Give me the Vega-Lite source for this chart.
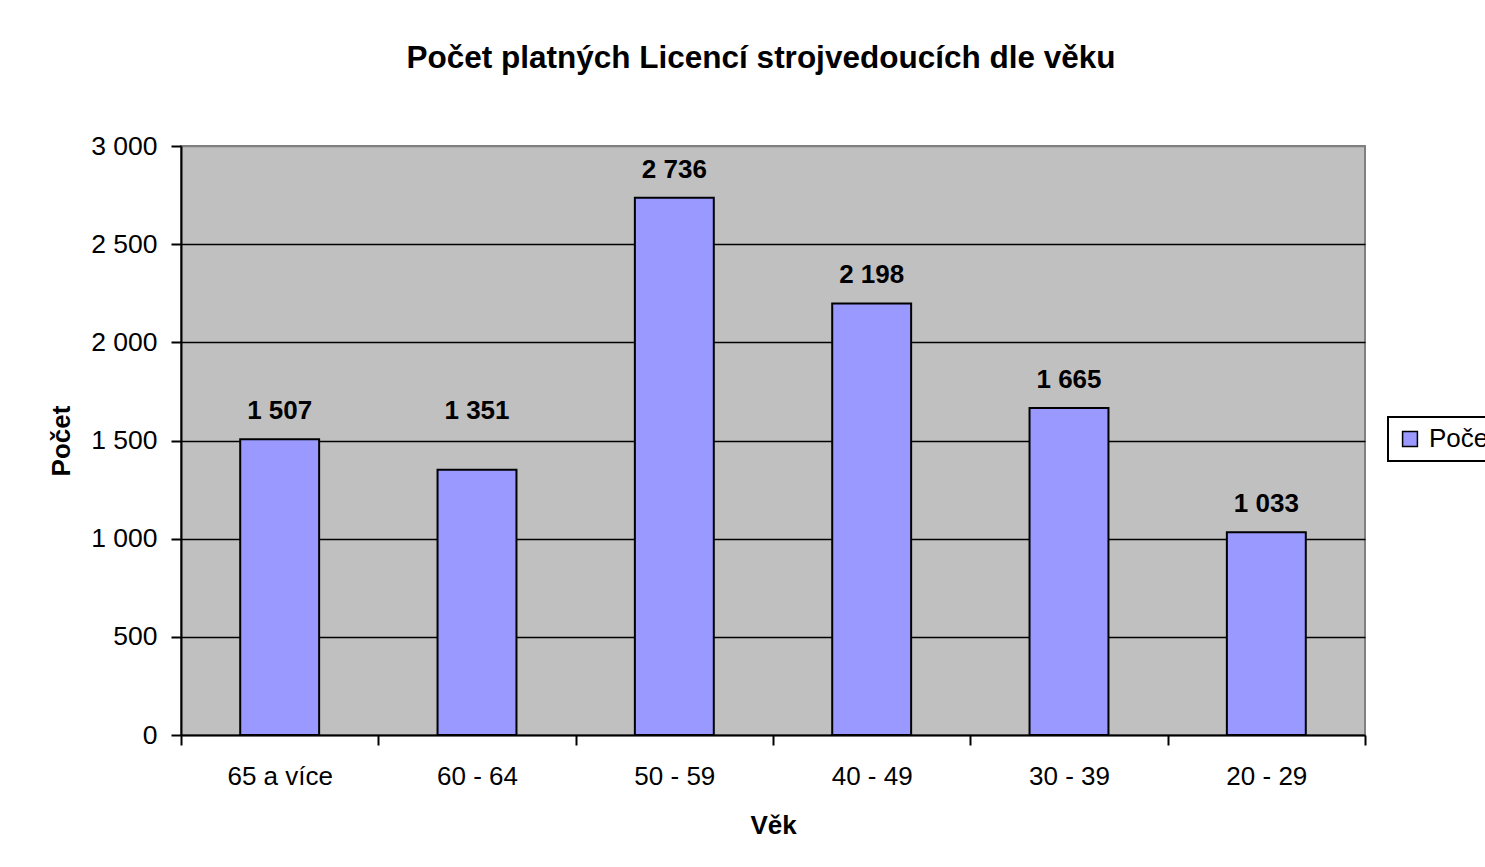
{
  "$schema": "https://vega.github.io/schema/vega-lite/v6.json",
  "autosize": {"type": "none"},
  "padding": {"left": 181, "top": 146, "right": 120, "bottom": 132},
  "width": 1184,
  "height": 589,
  "background": "white",
  "title": {
    "text": "Počet platných Licencí strojvedoucích dle věku",
    "font": "Liberation Sans",
    "fontSize": 31.5,
    "fontWeight": "bold",
    "color": "black",
    "anchor": "middle",
    "frame": "group",
    "offset": 59,
    "dx": -12
  },
  "data": {
    "values": [
      {"vek": "65 a více", "pocet": 1507, "serie": "Počet"},
      {"vek": "60 - 64", "pocet": 1351, "serie": "Počet"},
      {"vek": "50 - 59", "pocet": 2736, "serie": "Počet"},
      {"vek": "40 - 49", "pocet": 2198, "serie": "Počet"},
      {"vek": "30 - 39", "pocet": 1665, "serie": "Počet"},
      {"vek": "20 - 29", "pocet": 1033, "serie": "Počet"}
    ]
  },
  "encoding": {
    "x": {
      "field": "vek",
      "type": "nominal",
      "sort": null,
      "title": "Věk",
      "scale": {"paddingInner": 0, "paddingOuter": 0},
      "axis": {
        "labelAngle": 0,
        "tickBand": "extent",
        "grid": false,
        "domainColor": "black",
        "domainWidth": 2,
        "tickColor": "black",
        "tickWidth": 2,
        "tickSize": 10,
        "labelPadding": 18,
        "labelFont": "Liberation Sans",
        "labelFontSize": 26,
        "labelColor": "black",
        "titleFont": "Liberation Sans",
        "titleFontSize": 26,
        "titleFontWeight": "bold",
        "titleColor": "black",
        "titlePadding": 23
      }
    },
    "y": {
      "field": "pocet",
      "type": "quantitative",
      "title": "Počet",
      "scale": {"domain": [0, 3000], "nice": false},
      "axis": {
        "values": [0, 500, 1000, 1500, 2000, 2500, 3000],
        "format": ",d",
        "grid": true,
        "gridColor": {"condition": {"test": "datum.value === 3000 || datum.value === 0", "value": "#808080"}, "value": "black"},
        "gridWidth": 1.5,
        "domainColor": "black",
        "domainWidth": 2,
        "tickColor": "black",
        "tickWidth": 2,
        "tickSize": 10,
        "labelPadding": 14,
        "labelFont": "Liberation Sans",
        "labelFontSize": 26.5,
        "labelColor": "black",
        "titleFont": "Liberation Sans",
        "titleFontSize": 26,
        "titleFontWeight": "bold",
        "titleColor": "black",
        "titlePadding": 16
      }
    }
  },
  "layer": [
    {
      "mark": {"type": "bar", "width": {"band": 0.4}, "stroke": "black", "strokeWidth": 2},
      "encoding": {
        "color": {
          "field": "serie",
          "type": "nominal",
          "scale": {"range": ["#9999FF"]},
          "legend": {
            "title": null,
            "orient": "none",
            "legendX": 1207,
            "legendY": 271,
            "symbolType": "square",
            "symbolSize": 220,
            "symbolStrokeColor": "black",
            "symbolStrokeWidth": 1.5,
            "labelFont": "Liberation Sans",
            "labelFontSize": 26,
            "labelColor": "black",
            "labelOffset": 6,
            "strokeColor": "black",
            "fillColor": "white",
            "padding": 9
          }
        }
      }
    },
    {
      "mark": {
        "type": "text",
        "baseline": "alphabetic",
        "dy": {"expr": "datum.vek === '60 - 64' ? -51 : -20"},
        "font": "Liberation Sans",
        "fontSize": 26,
        "fontWeight": "bold",
        "color": "black"
      },
      "encoding": {
        "text": {"field": "pocet", "type": "quantitative", "format": ",d"}
      }
    }
  ],
  "config": {
    "locale": {"number": {"decimal": ",", "thousands": " ", "grouping": [3], "currency": ["", " Kč"]}},
    "view": {"fill": "#C0C0C0", "stroke": "#808080", "strokeWidth": 2},
    "legend": {"strokeWidth": 2}
  }
}
